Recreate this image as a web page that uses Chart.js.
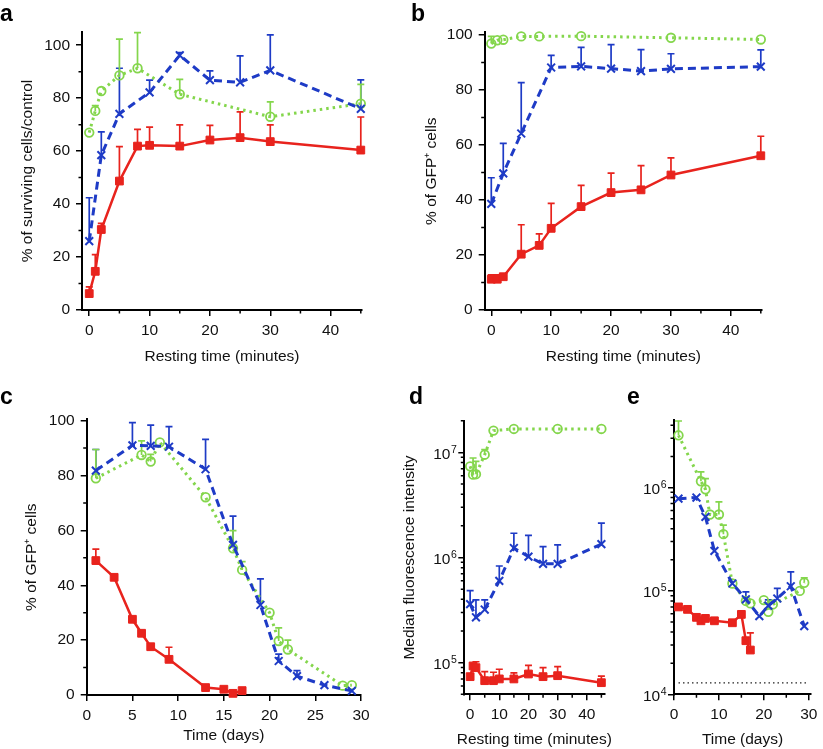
<!DOCTYPE html>
<html>
<head>
<meta charset="utf-8">
<script src="https://cdn.jsdelivr.net/npm/chart.js@4.4.1/dist/chart.umd.min.js"></script>
<style>
  body { margin: 0; background: #fff; }
  #fig { position: relative; width: 823px; height: 749px; overflow: hidden; font-family: 'Liberation Sans', Arial, sans-serif; }
  canvas { position: absolute; }
  .lbl { position: absolute; font-weight: bold; font-size: 23px; line-height: 23px; color: #000; }
</style>
</head>
<body>
<div id="fig">
  <canvas id="pa" width="410" height="370" style="left:0;top:0"></canvas>
  <canvas id="pb" width="411" height="370" style="left:412px;top:0"></canvas>
  <canvas id="pc" width="395" height="379" style="left:0;top:370px"></canvas>
  <canvas id="pd" width="217" height="379" style="left:395px;top:370px"></canvas>
  <canvas id="pe" width="211" height="379" style="left:612px;top:370px"></canvas>
  <div class="lbl" style="left:0;top:2px">a</div>
  <div class="lbl" style="left:411px;top:2px">b</div>
  <div class="lbl" style="left:0;top:385px">c</div>
  <div class="lbl" style="left:409px;top:385px">d</div>
  <div class="lbl" style="left:627px;top:385px">e</div>
</div>
<script>
const FAMILY = "'Liberation Sans', Arial, sans-serif";
const RED = '#e8231d';
const BLUE = '#1e3bc6';
const GREEN = '#84d64c';

// a - % of surviving cells/control vs resting time (min)
const aRedX = [0, 1, 2, 5, 8, 10, 15, 20, 25, 30, 45];
const aRedY = [6.2, 14.6, 30.4, 48.7, 61.9, 62.2, 61.9, 64.2, 65.1, 63.6, 60.4];
const aRedErr = [2.5, 6.3, 2.3, 13.0, 6.3, 6.9, 8.0, 5.5, 9.7, 6.3, 12.5];
const aBlueX = [0, 2, 5, 10, 15, 20, 25, 30, 45];
const aBlueY = [26.0, 58.5, 74.1, 82.2, 96.2, 86.8, 86.0, 90.5, 76.0];
const aBlueErr = [16.4, 8.8, 17.2, 4.6, 1.0, 3.5, 10.0, 13.4, 10.9];
const aGreenX = [0, 1, 2, 5, 8, 15, 30, 45];
const aGreenY = [67.0, 75.2, 82.7, 88.6, 91.3, 81.5, 73.0, 77.9];
const aGreenErr = [0, 2.0, 0, 13.7, 13.5, 5.6, 5.6, 7.3];

// b - % of GFP+ cells vs resting time (min)
const bRedX = [0, 1, 2, 5, 8, 10, 15, 20, 25, 30, 45];
const bRedY = [11.2, 11.2, 12.1, 20.3, 23.5, 29.7, 37.6, 42.7, 43.7, 49.1, 56.1];
const bRedErr = [1.6, 1.6, 0, 10.7, 4.2, 9.1, 7.7, 7.1, 8.8, 6.2, 7.1];
const bBlueX = [0, 2, 5, 10, 15, 20, 25, 30, 45];
const bBlueY = [38.6, 49.7, 64.2, 88.2, 88.6, 87.8, 86.9, 87.7, 88.5];
const bBlueErr = [9.5, 10.9, 18.5, 4.4, 6.9, 8.7, 7.8, 5.5, 6.1];
const bGreenX = [0, 1, 2, 5, 8, 15, 30, 45];
const bGreenY = [96.9, 98.1, 98.3, 99.5, 99.5, 99.6, 99.0, 98.4];
const bGreenErr = [2.6, 0, 0, 0, 0, 0, 0, 0];

// c - % of GFP+ cells vs time (days)
const cRedX = [1, 3, 5, 6, 7, 9, 13, 15, 16, 17];
const cRedY = [49.0, 42.9, 27.6, 22.5, 17.6, 13.0, 2.7, 2.1, 0.6, 1.6];
const cRedErr = [4.2, 0, 0, 0, 0, 4.4, 0, 0, 0, 0];
const cBlueX = [1, 5, 7, 9, 13, 16, 19, 21, 23, 26, 29];
const cBlueY = [81.8, 91.0, 90.8, 90.5, 82.3, 54.7, 32.8, 12.4, 6.9, 3.6, 1.5];
const cBlueErr = [7.7, 8.3, 7.6, 7.3, 10.9, 10.5, 9.5, 2.5, 2.0, 0, 0];
const cGreenX = [1, 6, 7, 8, 13, 16, 17, 20, 21, 22, 28, 29];
const cGreenY = [79.0, 87.5, 85.1, 92.1, 72.1, 53.5, 45.6, 30.0, 19.7, 16.6, 3.4, 3.6];
const cGreenErr = [10.5, 5.1, 2.6, 0, 0, 6.4, 3.0, 0, 4.8, 3.4, 0, 0];

// d - median fluorescence intensity vs resting time (min)
const dRedX = [0, 1, 2, 5, 8, 10, 15, 20, 25, 30, 45];
const dRedY = [7.36e4, 9.3e4, 8.96e4, 6.74e4, 6.74e4, 7.0e4, 7.0e4, 7.8e4, 7.36e4, 7.52e4, 6.45e4];
const dRedErr = [0, 0, 1.24e4, 1.46e4, 1.36e4, 1.65e4, 1.0e4, 1.6e4, 1.6e4, 1.64e4, 1.01e4];
const dBlueX = [0, 2, 5, 10, 15, 20, 25, 30, 45];
const dBlueY = [3.6e5, 2.7e5, 3.2e5, 6.0e5, 1.23e6, 1.02e6, 8.7e5, 8.7e5, 1.34e6];
const dBlueErr = [1.25e5, 1.25e5, 0.75e5, 2.3e5, 4.7e5, 6.0e5, 4.0e5, 4.5e5, 7.8e5];
const dGreenX = [0, 1, 2, 5, 8, 15, 30, 45];
const dGreenY = [7.36e6, 6.14e6, 6.2e6, 9.5e6, 1.61e7, 1.67e7, 1.67e7, 1.67e7];
const dGreenErr = [0, 2.7e6, 2.0e6, 1.1e6, 0, 0, 0, 0];

// e - fluorescence intensity vs time (days)
const eRedX = [1, 3, 5, 6, 7, 9, 13, 15, 16, 17];
const eRedY = [7.0e4, 6.63e4, 5.55e4, 5.14e4, 5.42e4, 5.14e4, 4.92e4, 5.93e4, 3.3e4, 2.68e4];
const eRedErr = [5e3, 0, 0, 0, 0, 0, 0, 0, 0, 1.25e4];
const eBlueX = [1, 5, 7, 9, 13, 16, 19, 21, 23, 26, 29];
const eBlueY = [7.8e5, 8.0e5, 5.2e5, 2.44e5, 1.18e5, 8.3e4, 5.7e4, 7.2e4, 8.45e4, 1.11e5, 4.57e4];
const eBlueErr = [0, 0, 0, 0, 0, 1.5e4, 0, 1.0e4, 2.15e4, 4.2e4, 0];
const eGreenX = [1, 6, 7, 8, 10, 11, 13, 16, 17, 20, 21, 22, 28, 29];
const eGreenY = [3.2e6, 1.15e6, 9.6e5, 5.48e5, 5.48e5, 3.54e5, 1.18e5, 8.0e4, 7.57e4, 8.15e4, 6.29e4, 7.4e4, 1.0e5, 1.2e5];
const eGreenErr = [1.2e6, 2.7e5, 2.6e5, 0, 1.78e5, 7.9e4, 0, 0, 0, 0, 0, 0, 0, 1.4e4];
const eBackgroundX = [1, 29.5];
const eBackgroundY = [1.29e4, 1.29e4];

// tick values
const minuteTicks = [0, 10, 20, 30, 40];
const minuteMinor = [5, 15, 25, 35, 45];
const dayTicksC = [0, 5, 10, 15, 20, 25, 30];
const dayTicksE = [0, 10, 20, 30];
const dayMinorE = [5, 15, 25];
const pctTicks = [0, 20, 40, 60, 80, 100];
const pctMinor = [10, 30, 50, 70, 90];
const dDecades = [1e5, 1e6, 1e7];
const eDecades = [1e4, 1e5, 1e6];

// 2..9 x 10^n between lo and hi
function logMinors(lo, hi) {
  const out = [];
  for (let d = 1e3; d <= 1e8; d *= 10) {
    for (let k = 2; k <= 9; k++) {
      const v = k * d;
      if (v >= lo && v <= hi) out.push(v);
    }
  }
  return out;
}

const errorBars = {
  id: 'errorBars',
  beforeDatasetsDraw(chart) {
    const ctx = chart.ctx;
    const ys = chart.scales.y;
    chart.data.datasets.forEach((ds, i) => {
      if (!ds.errors) return;
      const meta = chart.getDatasetMeta(i);
      ctx.save();
      ctx.strokeStyle = ds.borderColor;
      ctx.lineWidth = 1.7;
      meta.data.forEach((pt, j) => {
        const e = ds.errors[j];
        if (!e) return;
        const top = ys.getPixelForValue(ds.data[j].y + e);
        ctx.beginPath();
        ctx.moveTo(pt.x, pt.y);
        ctx.lineTo(pt.x, top);
        ctx.moveTo(pt.x - 3.5, top);
        ctx.lineTo(pt.x + 3.5, top);
        ctx.stroke();
      });
      ctx.restore();
    });
  }
};

const minorTicks = {
  id: 'minorTicks',
  afterDraw(chart, args, opts) {
    const {ctx, chartArea, scales} = chart;
    ctx.save();
    ctx.strokeStyle = '#000';
    ctx.lineWidth = 1.5;
    ctx.beginPath();
    (opts.x || []).forEach(v => {
      const px = scales.x.getPixelForValue(v);
      ctx.moveTo(px, chartArea.bottom);
      ctx.lineTo(px, chartArea.bottom + 3.5);
    });
    (opts.y || []).forEach(v => {
      const py = scales.y.getPixelForValue(v);
      ctx.moveTo(chartArea.left, py);
      ctx.lineTo(chartArea.left - 3.5, py);
    });
    ctx.stroke();
    ctx.restore();
  }
};

// 10^n labels with a raised exponent
const logLabels = {
  id: 'logLabels',
  afterDraw(chart) {
    const s = chart.scales.y;
    if (s.type !== 'logarithmic') return;
    const ctx = chart.ctx;
    ctx.save();
    ctx.fillStyle = '#111';
    ctx.textAlign = 'right';
    ctx.textBaseline = 'alphabetic';
    s.ticks.forEach(t => {
      const exp = String(Math.round(Math.log10(t.value)));
      const y = s.getPixelForValue(t.value);
      const xr = s.right - 7.5;
      ctx.font = '10.5px ' + FAMILY;
      ctx.fillText(exp, xr, y + 0.5);
      const w = ctx.measureText(exp).width;
      ctx.font = '15.5px ' + FAMILY;
      ctx.fillText('10', xr - w - 0.5, y + 6.5);
    });
    ctx.restore();
  }
};

// x title that may be wider than the plot area (panel d)
const wideXTitle = {
  id: 'wideXTitle',
  afterDraw(chart, args, opts) {
    if (!opts.text) return;
    const {ctx, chartArea} = chart;
    ctx.save();
    ctx.fillStyle = '#111';
    ctx.font = '15.5px ' + FAMILY;
    ctx.textAlign = 'center';
    ctx.textBaseline = 'middle';
    ctx.fillText(opts.text, (chartArea.left + chartArea.right) / 2, chart.height - opts.offset);
    ctx.restore();
  }
};

const tickFont = { family: FAMILY, size: 15.5 };
const tickGrid = { display: true, drawOnChartArea: false, drawTicks: true, tickLength: 6, color: '#000', lineWidth: 1.5 };
const axisBorder = { display: true, color: '#000', width: 2 };

const redStyle = { borderColor: RED, backgroundColor: RED, borderWidth: 2.5, pointStyle: 'rect', pointRadius: 5.5, pointBorderWidth: 1 };
const blueStyle = { borderColor: BLUE, backgroundColor: BLUE, borderWidth: 3, borderDash: [8, 5], pointStyle: 'crossRot', pointRadius: 5.5, pointBorderWidth: 2 };
const greenStyle = { borderColor: GREEN, backgroundColor: 'rgba(0,0,0,0)', borderWidth: 3, borderDash: [2.5, 4], pointStyle: 'circle', pointRadius: 4.3, pointBorderWidth: 1.8 };

function series(xs, ys, errs, style) {
  return Object.assign({
    data: xs.map((x, i) => ({ x: x, y: ys[i] })),
    errors: errs,
    showLine: true,
    clip: false,
    tension: 0
  }, style);
}

function makePanel(id, o) {
  const isLog = o.yType === 'logarithmic';
  return new Chart(document.getElementById(id), {
    type: 'line',
    data: { datasets: o.datasets },
    options: {
      responsive: false,
      animation: false,
      devicePixelRatio: 1,
      layout: { padding: { left: 0, top: o.padTop, right: o.padRight, bottom: 0 } },
      plugins: {
        legend: { display: false },
        tooltip: { enabled: false },
        minorTicks: { x: o.minorX, y: o.minorY },
        wideXTitle: { text: o.wideTitle ? o.xTitle : '', offset: 9.5 }
      },
      scales: {
        x: {
          type: 'linear',
          min: o.xMin,
          max: o.xMax,
          afterBuildTicks: s => { s.ticks = o.xTicks.map(v => ({ value: v })); },
          afterFit: s => { s.height = o.xHeight; },
          grid: tickGrid,
          border: axisBorder,
          ticks: { font: tickFont, color: '#111', padding: 5, maxRotation: 0, autoSkip: false },
          title: { display: !o.wideTitle, text: o.xTitle, font: tickFont, color: '#111', padding: { top: 0, bottom: o.xTitlePad } }
        },
        y: {
          type: o.yType,
          min: o.yMin,
          max: o.yMax,
          afterBuildTicks: s => { s.ticks = o.yTicks.map(v => ({ value: v })); },
          afterFit: s => { s.width = o.yWidth; },
          grid: tickGrid,
          border: axisBorder,
          ticks: {
            font: tickFont, color: '#111', padding: 6, autoSkip: false,
            callback: v => isLog ? '' : String(v)
          },
          title: { display: !!o.yTitle, text: o.yTitle || '', font: tickFont, color: '#111', padding: { top: o.yTitlePad || 0, bottom: 0 } }
        }
      }
    },
    plugins: [errorBars, minorTicks, logLabels, wideXTitle]
  });
}

makePanel('pa', {
  datasets: [
    series(aRedX, aRedY, aRedErr, redStyle),
    series(aBlueX, aBlueY, aBlueErr, blueStyle),
    series(aGreenX, aGreenY, aGreenErr, greenStyle)
  ],
  padTop: 32, padRight: 48, xHeight: 60, yWidth: 82,
  xMin: -1.2, xMax: 45.2, xTicks: minuteTicks, minorX: minuteMinor,
  yType: 'linear', yMin: 0, yMax: 105, yTicks: pctTicks, minorY: pctMinor,
  xTitle: 'Resting time (minutes)', xTitlePad: 3.5,
  yTitle: '% of surviving cells/control', yTitlePad: 18.7
});

makePanel('pb', {
  datasets: [
    series(bRedX, bRedY, bRedErr, redStyle),
    series(bBlueX, bBlueY, bBlueErr, blueStyle),
    series(bGreenX, bGreenY, bGreenErr, greenStyle)
  ],
  padTop: 32.3, padRight: 61, xHeight: 60, yWidth: 72.7,
  xMin: -1.1, xMax: 45.2, xTicks: minuteTicks, minorX: minuteMinor,
  yType: 'linear', yMin: 0, yMax: 101, yTicks: pctTicks, minorY: pctMinor,
  xTitle: 'Resting time (minutes)', xTitlePad: 3.5,
  yTitle: '% of GFP\u207A cells', yTitlePad: 10.7
});

makePanel('pc', {
  datasets: [
    series(cRedX, cRedY, cRedErr, redStyle),
    series(cBlueX, cBlueY, cBlueErr, blueStyle),
    series(cGreenX, cGreenY, cGreenErr, greenStyle)
  ],
  padTop: 49.3, padRight: 34, xHeight: 54, yWidth: 86.7,
  xMin: 0, xMax: 30, xTicks: dayTicksC, minorX: [],
  yType: 'linear', yMin: 0, yMax: 100.5, yTicks: pctTicks, minorY: pctMinor,
  xTitle: 'Time (days)', xTitlePad: 3.7,
  yTitle: '% of GFP\u207A cells', yTitlePad: 22.4
});

makePanel('pd', {
  datasets: [
    series(dRedX, dRedY, dRedErr, redStyle),
    series(dBlueX, dBlueY, dBlueErr, blueStyle),
    series(dGreenX, dGreenY, dGreenErr, greenStyle)
  ],
  padTop: 50.7, padRight: 7.7, xHeight: 54.7, yWidth: 69.3,
  xMin: -2, xMax: 46, xTicks: minuteTicks, minorX: minuteMinor,
  yType: 'logarithmic', yMin: 5e4, yMax: 2e7, yTicks: dDecades, minorY: logMinors(5e4, 2e7),
  xTitle: 'Resting time (minutes)', wideTitle: true,
  yTitle: 'Median fluorescence intensity', yTitlePad: 5.7
});

makePanel('pe', {
  datasets: [
    series(eRedX, eRedY, eRedErr, redStyle),
    series(eBlueX, eBlueY, eBlueErr, blueStyle),
    series(eGreenX, eGreenY, eGreenErr, greenStyle),
    {
      data: eBackgroundX.map((x, i) => ({ x: x, y: eBackgroundY[i] })),
      showLine: true, borderColor: '#222', borderWidth: 1.3, borderDash: [1.5, 3], pointRadius: 0
    }
  ],
  padTop: 50, padRight: 12, xHeight: 54.7, yWidth: 62,
  xMin: 0, xMax: 30.5, xTicks: dayTicksE, minorX: dayMinorE,
  yType: 'logarithmic', yMin: 1e4, yMax: 4.5e6, yTicks: eDecades, minorY: logMinors(1e4, 4.5e6),
  xTitle: 'Time (days)', xTitlePad: 0
});
</script>
</body>
</html>
